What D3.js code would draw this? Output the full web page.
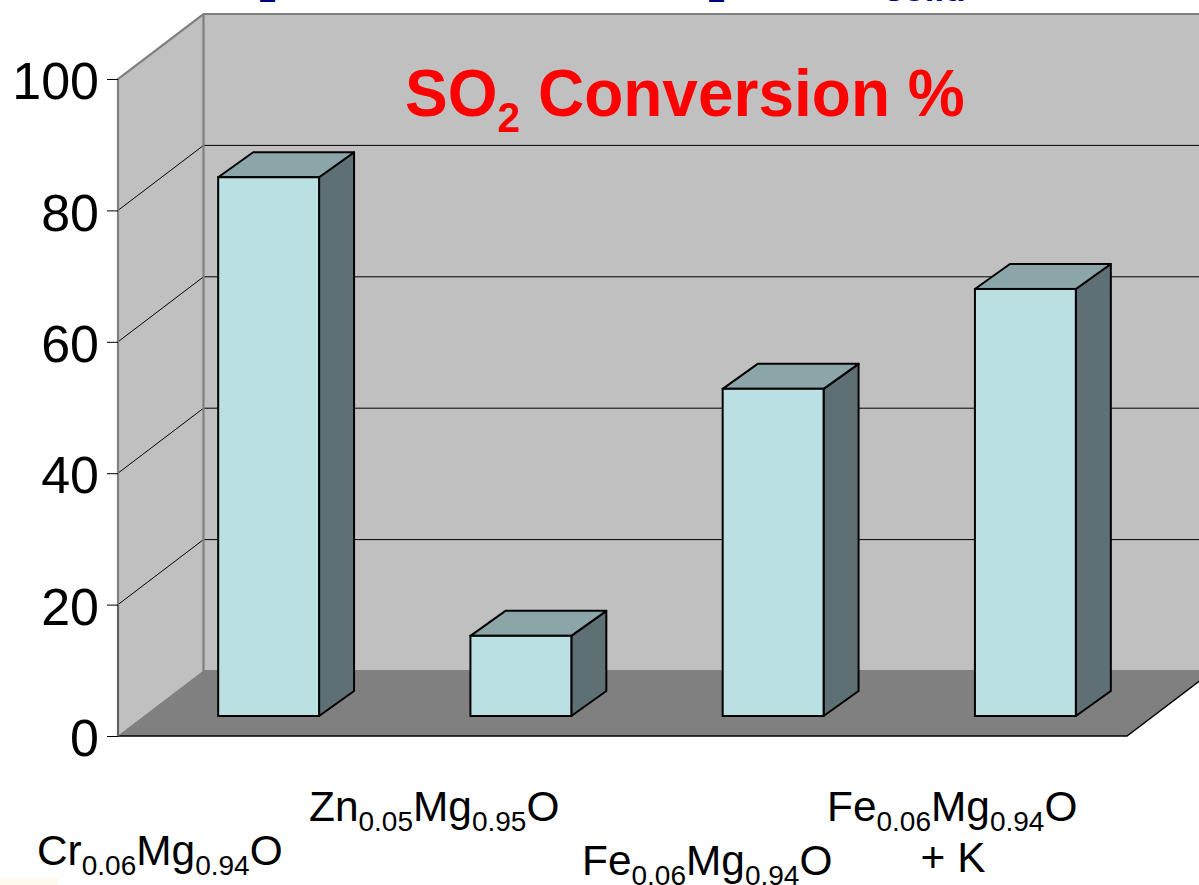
<!DOCTYPE html>
<html>
<head>
<meta charset="utf-8">
<script src="https://cdn.jsdelivr.net/npm/d3@7"></script>
<style>
html, body { margin: 0; padding: 0; background: #fff; overflow: hidden; }
text { font-family: "Liberation Sans", Arial, sans-serif; }
</style>
</head>
<body>
<div id="chart"></div>
<script>
// Chart data
const categories = ["Cr", "Zn", "FeA", "FeK"];
const conversion = [82, 12.2, 49.8, 65];
const yTicks = [0, 20, 40, 60, 80, 100];
const gridTicks = [20, 40, 60, 80];

// Category labels: [normal, subscript, normal, subscript, normal]
const labelParts = [
    ["Cr", "0.06", "Mg", "0.94", "O"],
    ["Zn", "0.05", "Mg", "0.95", "O"],
    ["Fe", "0.06", "Mg", "0.94", "O"],
    ["Fe", "0.06", "Mg", "0.94", "O"]
];
const labelX = [37, 309, 582, 827];
const labelY = [865, 821, 875, 821];

// Bits of the slide heading that are cut off by the top edge
const headingBits = ["2", "2", "solid"];
const headingX = [259, 708, 884];
const headingY = [2, 2, 1];
const headingSize = [31, 31, 35];

const width = 1199;
const height = 885;

// Front plane of the 3D box
const x = d3.scaleBand()
    .domain(categories)
    .range([118, 1127])
    .paddingInner(0.6)
    .paddingOuter(0.3);
const y = d3.scaleLinear().domain([0, 100]).range([736, 79]);

// 3D offsets
const depthX = 85.5, depthY = -65;
const barShiftX = 24.5, barShiftY = -20;
const barDepthX = 35, barDepthY = -25;

const svg = d3.select('#chart').append('svg')
    .attr('width', width)
    .attr('height', height)
    .style('display', 'block');

const poly = pts => pts.map(p => p.join(',')).join(' ');
const x0 = x.range()[0], x1 = x.range()[1];
const y0 = y(0), yTop = y(100);

// Faint patch in the bottom left corner of the slide
svg.append('rect')
    .attr('x', 0)
    .attr('y', 878)
    .attr('width', 58)
    .attr('height', 7)
    .attr('fill', '#fff9ee');

// Slide heading remains
svg.append('g').selectAll('text')
    .data(headingBits)
    .enter().append('text')
    .attr('x', (d, i) => headingX[i])
    .attr('y', (d, i) => headingY[i])
    .attr('fill', '#000080')
    .style('font-weight', 'bold')
    .style('font-size', (d, i) => `${headingSize[i]}px`)
    .text(d => d);

// Back wall
svg.append('polygon')
    .attr('points', poly([[x0 + depthX, yTop + depthY], [x1 + depthX + 10, yTop + depthY], [x1 + depthX + 10, y0 + depthY], [x0 + depthX, y0 + depthY]]))
    .attr('fill', '#c0c0c0');

// Side wall
svg.append('polygon')
    .attr('points', poly([[x0, yTop], [x0 + depthX, yTop + depthY], [x0 + depthX, y0 + depthY], [x0, y0]]))
    .attr('fill', '#c0c0c0');

// Floor
svg.append('polygon')
    .attr('points', poly([[x0, y0], [x0 + depthX, y0 + depthY], [x1 + depthX, y0 + depthY], [x1, y0]]))
    .attr('fill', '#808080');

// Gridlines along side and back
svg.append('g').selectAll('path')
    .data(gridTicks)
    .enter().append('path')
    .attr('d', d => `M${x0},${y(d)}L${x0 + depthX},${y(d) + depthY}L${width},${y(d) + depthY}`)
    .attr('fill', 'none')
    .attr('stroke', '#000')
    .attr('stroke-width', 1);

// Wall edges
svg.append('path')
    .attr('d', `M${x0},${y0}V${yTop}L${x0 + depthX},${yTop + depthY}H${width}M${x0 + depthX},${yTop + depthY}V${y0 + depthY}H${width}`)
    .attr('fill', 'none')
    .attr('stroke', '#808080')
    .attr('stroke-width', 2.2);

// Floor edges
svg.append('path')
    .attr('d', `M${x0},${y0}H${x1}L${x1 + depthX},${y0 + depthY}`)
    .attr('fill', 'none')
    .attr('stroke', '#000')
    .attr('stroke-width', 1.4);
svg.append('path')
    .attr('d', `M${x0},${y0}L${x0 + depthX},${y0 + depthY}`)
    .attr('stroke', '#808080')
    .attr('stroke-width', 1);
svg.append('path')
    .attr('d', `M${x0},${y0}V${y(20)}`)
    .attr('stroke', '#404040')
    .attr('stroke-width', 1);

// Y axis
const yAxis = d3.axisLeft(y).tickValues(yTicks).tickSize(11).tickSizeOuter(0);
const axisG = svg.append('g').attr('transform', `translate(${x0},0)`).call(yAxis);
axisG.select('.domain').remove();
axisG.selectAll('.tick line').attr('stroke', '#000').attr('stroke-width', 1);
axisG.selectAll('.tick text')
    .attr('x', -19)
    .attr('dy', '0.38em')
    .attr('fill', '#000')
    .style('font-size', '52px')
    .style('font-family', '"Liberation Sans", Arial, sans-serif');

// Bars
const bars = svg.append('g').selectAll('g')
    .data(categories)
    .enter().append('g')
    .attr('transform', d => `translate(${x(d) + barShiftX},${barShiftY})`);

const barW = x.bandwidth();
const barH = i => y(0) - y(conversion[i]);

bars.append('polygon')
    .attr('points', (d, i) => poly([[barW, y0 - barH(i)], [barW + barDepthX, y0 - barH(i) + barDepthY], [barW + barDepthX, y0 + barDepthY], [barW, y0]]))
    .attr('fill', '#5e7073')
    .attr('stroke', '#000')
    .attr('stroke-width', 2)
    .attr('stroke-linejoin', 'round');

bars.append('polygon')
    .attr('points', (d, i) => poly([[0, y0 - barH(i)], [barDepthX, y0 - barH(i) + barDepthY], [barW + barDepthX, y0 - barH(i) + barDepthY], [barW, y0 - barH(i)]]))
    .attr('fill', '#8ca5a9')
    .attr('stroke', '#000')
    .attr('stroke-width', 2)
    .attr('stroke-linejoin', 'round');

bars.append('rect')
    .attr('x', 0)
    .attr('y', (d, i) => y0 - barH(i))
    .attr('width', barW)
    .attr('height', (d, i) => barH(i))
    .attr('fill', '#bae0e4')
    .attr('stroke', '#000')
    .attr('stroke-width', 2);

// Category labels with subscripts
labelParts.forEach((parts, i) => {
    const t = svg.append('text')
        .attr('x', labelX[i])
        .attr('y', labelY[i])
        .attr('fill', '#000')
        .style('font-size', '42.4px');
    parts.forEach((p, j) => {
        const isSub = j % 2 === 1;
        t.append('tspan')
            .attr('dy', j === 0 ? 0 : (isSub ? 10 : -10))
            .style('font-size', isSub ? '28px' : '42.4px')
            .text(p);
    });
});

svg.append('text')
    .attr('x', 953)
    .attr('y', 872)
    .attr('text-anchor', 'middle')
    .attr('fill', '#000')
    .style('font-size', '42.4px')
    .text('+ K');

// Title, a bit narrow like the original
const title = svg.append('text')
    .attr('transform', 'translate(405,116) scale(0.97,1)')
    .attr('fill', '#ff0000')
    .style('font-size', '66px')
    .style('font-weight', 'bold');
title.append('tspan').text('SO');
title.append('tspan').attr('dy', 16).style('font-size', '42px').text('2');
title.append('tspan').attr('dy', -16).text(' Conversion %');
</script>
</body>
</html>
